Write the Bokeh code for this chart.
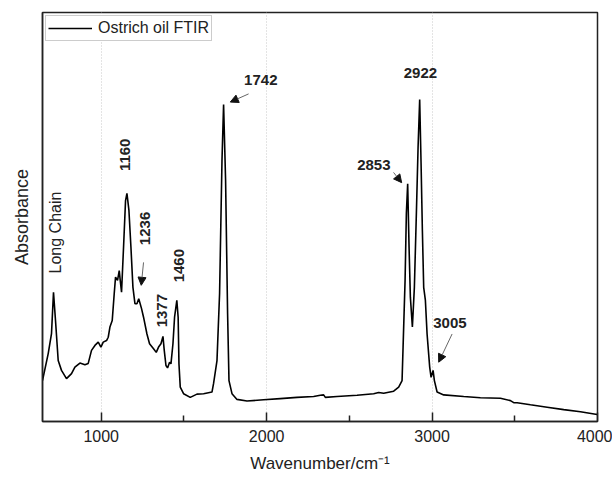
from math import pi
from bokeh.plotting import figure
from bokeh.models import Label, Arrow, NormalHead, FixedTicker, Range1d, ColumnDataSource, LinearAxis, Grid
from bokeh.embed import file_html
from bokeh.resources import INLINE

# ---- data ----
wavenumber = [645, 679.5, 699.4, 711.5, 723.6, 739.9, 759.9, 790.1, 820.4, 840.9,
              871.2, 901.4, 921.4, 941.3, 961.9, 981.9, 998.2, 1012.1, 1032.1, 1042.3,
              1052.6, 1066.5, 1078.6, 1086.5, 1098.6, 1108.9, 1114.9, 1122.8, 1134.9, 1147.0,
              1155.4, 1167.5, 1179.6, 1191.7, 1203.8, 1215.9, 1226.8, 1243.7, 1255.8, 1276.4,
              1292.1, 1316.3, 1332.6, 1346.6, 1361.1, 1373.2, 1381.0, 1391.3, 1401.0, 1413.1,
              1421.5, 1433.6, 1443.3, 1457.0, 1465.0, 1469.9, 1477.8, 1497.7, 1538.3, 1578.8,
              1618.7, 1669.5, 1679.2, 1699.8, 1715.5, 1730.0, 1739.7, 1751.8, 1763.9, 1772.3,
              1790.5, 1820.7, 1881.2, 1981.6, 2082.6, 2183.6, 2284.0, 2324.5, 2344.5, 2354.8,
              2425.5, 2546.5, 2646.9, 2677.1, 2707.4, 2767.8, 2798.1, 2818.6, 2824.7, 2836.8,
              2844.6, 2852.5, 2860.9, 2868.8, 2880.9, 2893.0, 2905.1, 2915.4, 2925.1, 2933.5,
              2941.4, 2949.3, 2959.6, 2969.8, 2985.6, 2994.0, 3006.1, 3014.0, 3030.3, 3070.2,
              3191.2, 3292.2, 3413.2, 3473.6, 3493.6, 3514.1, 3594.6, 3695.6, 3796.0, 3896.9,
              3997.9]
absorbance = [0.100, 0.166, 0.215, 0.316, 0.247, 0.149, 0.125, 0.105, 0.117, 0.133,
              0.143, 0.139, 0.142, 0.174, 0.186, 0.194, 0.182, 0.194, 0.198, 0.206,
              0.231, 0.247, 0.313, 0.353, 0.345, 0.369, 0.345, 0.316, 0.426, 0.540,
              0.558, 0.516, 0.426, 0.328, 0.288, 0.288, 0.300, 0.276, 0.255, 0.214,
              0.190, 0.178, 0.169, 0.182, 0.190, 0.208, 0.174, 0.137, 0.131, 0.145,
              0.141, 0.190, 0.255, 0.296, 0.255, 0.141, 0.084, 0.068, 0.059, 0.067,
              0.068, 0.072, 0.093, 0.149, 0.313, 0.638, 0.775, 0.589, 0.264, 0.100,
              0.068, 0.054, 0.050, 0.053, 0.056, 0.059, 0.061, 0.064, 0.065, 0.059,
              0.061, 0.064, 0.068, 0.071, 0.069, 0.074, 0.084, 0.100, 0.182, 0.345,
              0.509, 0.581, 0.426, 0.304, 0.231, 0.328, 0.509, 0.671, 0.787, 0.630,
              0.467, 0.328, 0.296, 0.214, 0.133, 0.108, 0.125, 0.100, 0.072, 0.065,
              0.061, 0.058, 0.057, 0.051, 0.046, 0.046, 0.041, 0.035, 0.029, 0.024,
              0.017]

major_ticks = [1000, 2000, 3000, 4000]
minor_ticks = [1500, 2500, 3500]
tick_labels = {1000: "1000", 2000: "2000", 3000: "3000", 4000: "4000"}

# horizontal peak labels (text, x, y)
h_labels = ["1742", "2922", "2853", "3005"]
h_x = [1964.6, 2929.3, 2648.1, 3107.8]
h_y = [0.836, 0.851, 0.628, 0.241]
# vertical peak labels
v_labels = ["1160", "1236", "1377", "1460"]
v_x = [1142.1, 1266.1, 1365.9, 1468.7]
v_y = [0.652, 0.472, 0.271, 0.381]
# arrows (x_start, y_start, x_end, y_end)
arrows = [(1255.8, 0.389, 1241.9, 0.333),
          (1890.9, 0.801, 1780.2, 0.781),
          (2767.0, 0.609, 2816.2, 0.584),
          (3121.1, 0.214, 3040.1, 0.145)]

FONT = "Liberation Sans"
INK = "#222222"

p = figure(width=612, height=476, output_backend="svg", toolbar_location=None,
           x_range=Range1d(645, 4000), y_range=Range1d(0, 1),
           x_axis_type=None, y_axis_type=None,
           min_border_left=42, min_border_right=15, min_border_top=12, min_border_bottom=55)

src = ColumnDataSource(dict(x=wavenumber, y=absorbance))
p.line("x", "y", source=src, line_color="black", line_width=1.6, legend_label="Ostrich oil FTIR")

# x axis
xa = LinearAxis(ticker=FixedTicker(ticks=major_ticks, minor_ticks=minor_ticks))
xa.major_label_overrides = tick_labels
xa.major_tick_in = 9
xa.major_tick_out = 0
xa.minor_tick_in = 6
xa.minor_tick_out = 0
xa.major_tick_line_color = INK
xa.minor_tick_line_color = INK
xa.major_tick_line_width = 1.5
xa.minor_tick_line_width = 1.5
xa.axis_line_color = INK
xa.axis_line_width = 1.5
xa.major_label_text_font = FONT
xa.major_label_text_font_size = "16px"
xa.major_label_text_color = INK
xa.major_label_standoff = 8
xa.axis_label = "Wavenumber/cm\u207b\u00b9"
xa.axis_label_text_font = FONT
xa.axis_label_text_font_size = "17px"
xa.axis_label_text_font_style = "normal"
xa.axis_label_text_color = INK
xa.axis_label_standoff = 9
p.add_layout(xa, "below")

# y axis: title only
ya = LinearAxis(ticker=FixedTicker(ticks=[]))
ya.major_tick_line_color = None
ya.minor_tick_line_color = None
ya.major_label_standoff = 0
ya.major_tick_out = 0
ya.minor_tick_out = 0
ya.axis_line_color = INK
ya.axis_line_width = 1.5
ya.axis_label = "Absorbance"
ya.axis_label_text_font = FONT
ya.axis_label_text_font_size = "18px"
ya.axis_label_text_font_style = "normal"
ya.axis_label_text_color = INK
ya.axis_label_standoff = 11
p.add_layout(ya, "left")

p.xgrid.visible = False
p.ygrid.visible = False
g = Grid(dimension=0, ticker=FixedTicker(ticks=major_ticks))
g.grid_line_color = "#c8c8c8"
g.grid_line_dash = "1 2"
g.grid_line_width = 1
p.add_layout(g)

p.outline_line_color = INK
p.outline_line_width = 1.5
p.outline_line_alpha = 1

lg = p.legend[0]
lg.location = "top_left"
lg.margin = 3
lg.padding = 2
lg.spacing = 0
lg.glyph_width = 44
lg.glyph_height = 20
lg.label_standoff = 6
lg.label_text_font = FONT
lg.label_text_font_size = "16px"
lg.label_text_color = INK
lg.border_line_color = "#999999"
lg.border_line_width = 1
lg.background_fill_alpha = 1

for t, x, y in zip(h_labels, h_x, h_y):
    p.add_layout(Label(x=x, y=y, text=t, text_font=FONT, text_font_size="15px",
                       text_font_style="bold", text_color=INK,
                       text_align="center", text_baseline="middle"))
for t, x, y in zip(v_labels, v_x, v_y):
    p.add_layout(Label(x=x, y=y, text=t, text_font=FONT, text_font_size="15px",
                       text_font_style="bold", text_color=INK, angle=pi / 2,
                       text_align="center", text_baseline="middle"))

p.add_layout(Label(x=724.8, y=0.462, text="Long Chain", text_font=FONT, text_font_size="16px",
                   text_color=INK, angle=pi / 2, text_align="center", text_baseline="middle"))

for xs, ys, xe, ye in arrows:
    p.add_layout(Arrow(x_start=xs, y_start=ys, x_end=xe, y_end=ye,
                       line_color="#666666", line_width=1,
                       end=NormalHead(size=8, fill_color="#111111", line_color="#111111")))

p.background_fill_color = "white"
p.border_fill_color = "white"

open("out.html", "w").write(file_html(p, INLINE))
